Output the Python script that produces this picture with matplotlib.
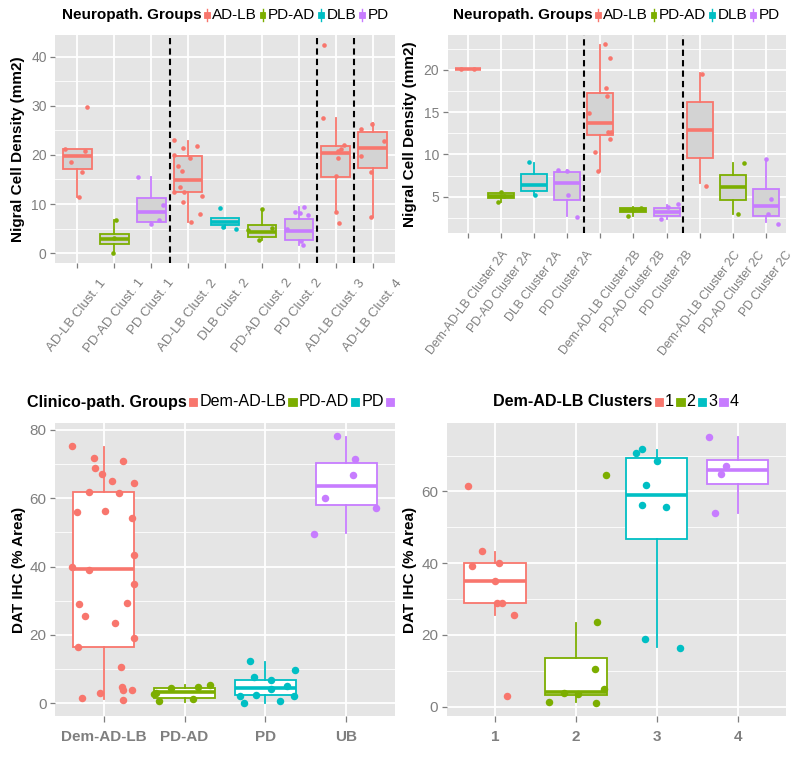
import matplotlib
matplotlib.use("Agg")
import matplotlib.pyplot as plt
from matplotlib.offsetbox import TextArea, DrawingArea, HPacker, AnchoredOffsetbox
from matplotlib.patches import Rectangle
from matplotlib.lines import Line2D
from matplotlib.ticker import MultipleLocator

plt.rcParams['font.family'] = ['Liberation Sans', 'DejaVu Sans']

RED, GREEN, CYAN, PURPLE = '#F8766D', '#7CAE00', '#00BFC4', '#C77CFF'
GROUP_COLORS = {'AD-LB': RED, 'PD-AD': GREEN, 'DLB': CYAN, 'PD': PURPLE}

# ---------------- Panel A (top-left) ----------------
a_categories = ['AD-LB Clust. 1', 'PD-AD Clust. 1', 'PD Clust. 1', 'AD-LB Clust. 2', 'DLB Clust. 2',
                'PD-AD Clust. 2', 'PD Clust. 2', 'AD-LB Clust. 3', 'AD-LB Clust. 4']
a_groups = ['AD-LB', 'PD-AD', 'PD', 'AD-LB', 'DLB', 'PD-AD', 'PD', 'AD-LB', 'AD-LB']
# box stats: (whisker low, Q1, median, Q3, whisker high)
a_box = [(11.4, 17.1, 19.8, 21.1, 21.3),
         (0.1, 1.95, 2.97, 3.86, 6.7),
         (5.9, 6.4, 8.4, 11.3, 15.4),
         (6.4, 12.5, 14.9, 19.8, 22.9),
         (5.2, 5.75, 6.4, 7.2, 7.2),
         (2.6, 3.3, 4.2, 5.75, 8.9),
         (1.6, 2.7, 4.5, 7.0, 9.3),
         (8.1, 15.6, 20.4, 21.9, 27.5),
         (7.45, 17.3, 21.4, 24.7, 26.4)]
a_points = [[21.3, 18.5, 20.7, 16.5, 11.4, 29.8],
            [6.7, 0.1, 3.0],
            [15.4, 9.9, 6.8, 5.9],
            [23.0, 20.0, 17.8, 21.4, 16.8, 13.5, 19.4, 21.9, 12.5, 10.4, 12.5, 6.4, 7.9, 11.7],
            [9.1, 4.9, 5.3],
            [8.9, 5.2, 2.6, 4.7],
            [8.3, 9.3, 8.1, 7.7, 5.0, 2.5, 1.6],
            [27.6, 42.3, 20.8, 22.0, 19.3, 15.8, 8.3, 6.1, 21.3],
            [25.2, 26.3, 19.8, 22.9, 16.6, 7.4]]
a_jitter = [[-0.32, -0.16, 0.21, 0.12, 0.04, 0.27],
            [0.06, -0.04, 0.0],
            [-0.36, 0.31, 0.22, -0.01],
            [-0.39, -0.37, -0.28, -0.14, -0.16, -0.21, 0.04, 0.24, -0.39, -0.14, -0.1, 0.09, 0.33, 0.38],
            [-0.14, 0.30, -0.05],
            [0.01, 0.26, -0.07, -0.37],
            [-0.1, 0.14, 0.04, 0.25, -0.33, 0.05, 0.1],
            [-0.34, -0.32, 0.05, 0.23, 0.07, 0.0, 0.0, 0.09, 0.15],
            [-0.33, -0.02, -0.33, 0.3, -0.04, -0.04]]
a_dividers = [3.5, 7.5, 8.5]

# ---------------- Panel B (top-right) ----------------
b_categories = ['Dem-AD-LB Cluster 2A', 'PD-AD Cluster 2A', 'DLB Cluster 2A', 'PD Cluster 2A',
                'Dem-AD-LB Cluster 2B', 'PD-AD Cluster 2B', 'PD Cluster 2B',
                'Dem-AD-LB Cluster 2C', 'PD-AD Cluster 2C', 'PD Cluster 2C']
b_groups = ['AD-LB', 'PD-AD', 'DLB', 'PD', 'AD-LB', 'PD-AD', 'PD', 'AD-LB', 'PD-AD', 'PD']
b_box = [(20.1, 20.1, 20.1, 20.1, 20.1),
         (4.4, 4.8, 5.05, 5.39, 5.6),
         (5.2, 5.71, 6.37, 7.75, 9.04),
         (2.76, 4.61, 6.57, 7.87, 8.14),
         (8.06, 12.26, 13.76, 17.25, 22.98),
         (2.76, 3.23, 3.43, 3.63, 3.74),
         (2.37, 2.76, 3.23, 3.7, 4.02),
         (6.57, 9.59, 12.93, 16.19, 19.65),
         (2.96, 4.61, 6.18, 7.55, 9.04),
         (1.98, 2.72, 3.94, 5.86, 9.44)]
b_points = [[20.1, 20.1],
            [4.4, 5.6, 5.1],
            [9.1, 5.2],
            [8.14, 8.0, 5.2, 2.64],
            [23.06, 21.37, 17.84, 16.86, 14.89, 12.66, 12.66, 11.79, 10.3, 8.06],
            [2.76, 3.7, 3.4],
            [2.37, 4.1, 3.82],
            [19.53, 6.3],
            [9.04, 2.96],
            [9.44, 4.69, 2.96, 1.78]]
b_jitter = [[-0.2, 0.2],
            [-0.08, 0.0, 0.1],
            [-0.15, 0.02],
            [-0.27, 0.0, 0.03, 0.3],
            [0.13, 0.3, 0.16, 0.21, -0.34, 0.23, 0.33, 0.28, -0.17, -0.07],
            [-0.15, 0.23, 0.0],
            [-0.17, 0.35, 0.03],
            [0.08, 0.18],
            [0.33, 0.16],
            [0.0, 0.16, 0.06, 0.36]]
b_dividers = [4.5, 7.5]

# ---------------- Panel C (bottom-left) ----------------
c_categories = ['Dem-AD-LB', 'PD-AD', 'PD', 'UB']
c_colors = [RED, GREEN, CYAN, PURPLE]
c_box = [(1.2, 16.5, 39.2, 61.8, 75.1),
         (0.5, 1.5, 3.4, 4.6, 5.5),
         (0.2, 2.4, 4.6, 6.8, 12.2),
         (49.8, 57.9, 63.5, 70.3, 77.9)]
c_points = [[75.4, 71.8, 68.9, 67.0, 70.8, 64.9, 64.5, 61.8, 61.6, 56.0, 56.4, 54.2, 43.3, 39.9, 39.1,
             35.0, 29.2, 29.4, 25.6, 23.6, 19.0, 16.5, 10.5, 4.9, 3.9, 3.9, 3.1, 1.5, 1.0],
            [2.6, 0.7, 4.4, 1.2, 4.9, 5.5, 2.9],
            [12.4, 7.6, 6.8, 5.2, 9.7, 4.2, 2.4, 2.1, 2.1, 0.2, 0.8],
            [78.1, 71.5, 66.9, 60.0, 57.1, 49.6]]
c_jitter = [[-0.39, -0.12, -0.1, -0.02, 0.24, 0.11, 0.37, -0.18, 0.19, -0.33, 0.02, 0.35, 0.37, -0.39, -0.18,
             0.38, -0.3, 0.29, -0.23, 0.14, 0.38, -0.32, 0.21, 0.23, 0.24, 0.35, -0.04, -0.27, 0.24],
            [-0.38, -0.31, -0.17, 0.1, 0.17, 0.32, -0.35],
            [-0.19, -0.14, 0.07, 0.26, 0.36, 0.07, -0.12, -0.32, 0.35, -0.26, 0.18],
            [-0.12, 0.1, 0.08, -0.26, 0.37, -0.4]]
c_legend_labels = ['Dem-AD-LB', 'PD-AD', 'PD', '']

# ---------------- Panel D (bottom-right) ----------------
d_categories = ['1', '2', '3', '4']
d_colors = [RED, GREEN, CYAN, PURPLE]
d_box = [(25.5, 29.0, 35.1, 40.1, 43.1),
         (1.2, 3.2, 4.2, 13.6, 23.4),
         (16.5, 46.7, 58.9, 69.3, 71.6),
         (54.1, 62.0, 66.0, 68.9, 75.1)]
d_points = [[61.4, 43.3, 39.1, 40.1, 35.0, 29.0, 29.0, 25.5, 3.1],
            [64.5, 23.7, 10.4, 4.8, 3.9, 3.5, 1.4, 1.1],
            [71.9, 70.7, 68.6, 61.7, 56.1, 55.8, 19.0, 16.4],
            [75.3, 67.0, 64.8, 54.1]]
d_jitter = [[-0.34, -0.16, -0.29, 0.05, 0.0, 0.02, 0.08, 0.23, 0.15],
            [0.37, 0.26, 0.24, 0.35, -0.15, 0.03, -0.33, 0.25],
            [-0.18, -0.26, 0.0, -0.13, -0.18, 0.11, -0.14, 0.29],
            [-0.35, -0.14, -0.2, -0.28]]

TICK_GREY = '#7F7F7F'
BG = '#E5E5E5'


def style_axes(ax, major, minor):
    ax.set_facecolor(BG)
    for s in ax.spines.values():
        s.set_visible(False)
    ax.yaxis.set_major_locator(MultipleLocator(major))
    ax.yaxis.set_minor_locator(MultipleLocator(minor))
    ax.grid(True, which='major', color='white', lw=1.3, zorder=0)
    ax.grid(True, which='minor', axis='y', color='white', lw=0.6, zorder=0)
    ax.set_axisbelow(True)
    ax.tick_params(which='major', colors=TICK_GREY, length=3.5, width=0.9, pad=2.5)
    ax.tick_params(which='minor', length=0)
    ax.tick_params(axis='x', which='minor', bottom=False)


def draw_boxes(ax, boxes, colors, fill, width, pts, jit, ms):
    stats = []
    for lo, q1, med, q3, hi in boxes:
        stats.append(dict(whislo=lo, q1=q1, med=med, q3=q3, whishi=hi, fliers=[]))
    pos = list(range(1, len(boxes) + 1))
    res = ax.bxp(stats, positions=pos, widths=width, showfliers=False, showcaps=False,
                 patch_artist=True)
    for i, c in enumerate(colors):
        b = res['boxes'][i]
        b.set_facecolor(fill)
        b.set_edgecolor(c)
        b.set_linewidth(1.3)
        b.set_zorder(2)
        res['medians'][i].set_color(c)
        res['medians'][i].set_linewidth(2.6)
        res['medians'][i].set_zorder(3)
        for w in res['whiskers'][2 * i:2 * i + 2]:
            w.set_color(c)
            w.set_linewidth(1.3)
            w.set_zorder(2)
    for i, (vals, js) in enumerate(zip(pts, jit)):
        xs = [pos[i] + j for j in js]
        ax.plot(xs, vals, 'o', color=colors[i], ms=ms, mew=0, zorder=4, linestyle='none')
    allv = [v for b in boxes for v in b] + [v for p in pts for v in p]
    lo, hi = min(allv), max(allv)
    pad = (hi - lo) * 0.05
    ax.set_ylim(lo - pad, hi + pad)
    ax.set_xlim(0.4, len(boxes) + 0.6)
    ax.set_xticks(pos)


def add_legend(fig, title, labels, colors, x, y, loc, fs=11, square=False):
    kids = [TextArea(title, textprops=dict(weight='bold', size=fs, color='black'))]
    for lab, col in zip(labels, colors):
        if square:
            da = DrawingArea(7, 9, 0, 0)
            da.add_artist(Rectangle((0.5, 1.5), 6, 6, fc=col, ec=col, lw=0.6))
        else:
            da = DrawingArea(6, 9, 0, 0)
            da.add_artist(Rectangle((1, 2.0), 4.0, 5.0, fc=col, ec=col, lw=0.6))
            da.add_artist(Line2D([3, 3], [0.5, 8.5], color=col, lw=1.0))
        kids.append(da)
        if lab:
            kids.append(TextArea(lab, textprops=dict(size=fs, color='black')))
    box = HPacker(children=kids, align='center', pad=0, sep=1)
    anc = AnchoredOffsetbox(loc=loc, child=box, bbox_to_anchor=(x, y),
                            bbox_transform=fig.transFigure, frameon=False, pad=0, borderpad=0)
    fig.add_artist(anc)


W, H = 799, 778
fig = plt.figure(figsize=(W / 100, H / 100), dpi=100)


def px_axes(x0, y0, x1, y1):
    return fig.add_axes([x0 / W, 1 - y1 / H, (x1 - x0) / W, (y1 - y0) / H])


# Panel A
axA = px_axes(55, 35, 395, 263)
style_axes(axA, 10, 5)
draw_boxes(axA, a_box, [GROUP_COLORS[g] for g in a_groups], '#D3D3D3', 0.78, a_points, a_jitter, 3.3)
for d in a_dividers:
    axA.axvline(d, color='black', lw=1.5, ls=(0, (3, 2)), zorder=5)
axA.set_xticklabels(a_categories, rotation=52, ha='center', va='top', fontsize=9.5)
axA.tick_params(axis='x', pad=6.5)
axA.tick_params(axis='y', labelsize=10)
axA.set_ylabel('Nigral Cell Density (mm2)', fontsize=11, weight='bold')
axA.yaxis.label.set_va('center')
axA.yaxis.set_label_coords((18 - 55) / 340, 0.5)

# Panel B
axB = px_axes(447.7, 35, 786, 233)
style_axes(axB, 5, 2.5)
draw_boxes(axB, b_box, [GROUP_COLORS[g] for g in b_groups], '#D3D3D3', 0.78, b_points, b_jitter, 3.3)
for d in b_dividers:
    axB.axvline(d, color='black', lw=1.5, ls=(0, (3, 2)), zorder=5)
axB.set_xticklabels(b_categories, rotation=53, ha='center', va='top', fontsize=8.8)
axB.tick_params(axis='x', pad=8)
axB.tick_params(axis='y', labelsize=10)
axB.set_ylabel('Nigral Cell Density (mm2)', fontsize=11, weight='bold')
axB.yaxis.label.set_va('center')
axB.yaxis.set_label_coords((410 - 447.7) / 338.3, 0.5)

# Panel C
axC = px_axes(55, 423, 395, 716)
style_axes(axC, 20, 10)
draw_boxes(axC, c_box, c_colors, 'white', 0.76, c_points, c_jitter, 5.4)
axC.set_xticklabels(c_categories, fontsize=11, weight='bold')
axC.tick_params(axis='y', labelsize=11)
axC.tick_params(axis='x', length=4.5, pad=5.5)
axC.set_ylabel('DAT IHC (% Area)', fontsize=11, weight='bold')
axC.yaxis.label.set_va('center')
axC.yaxis.set_label_coords((19 - 55) / 340, 0.5)

# Panel D
axD = px_axes(446.7, 423.3, 786, 716)
style_axes(axD, 20, 10)
draw_boxes(axD, d_box, d_colors, 'white', 0.76, d_points, d_jitter, 5.4)
axD.set_xticklabels(d_categories, fontsize=11, weight='bold')
axD.tick_params(axis='y', labelsize=11)
axD.tick_params(axis='x', length=4.5, pad=5.5)
axD.set_ylabel('DAT IHC (% Area)', fontsize=11, weight='bold')
axD.yaxis.label.set_va('center')
axD.yaxis.set_label_coords((410 - 446.7) / 339.3, 0.5)

# Legends
add_legend(fig, 'Neuropath. Groups', list(GROUP_COLORS.keys()), list(GROUP_COLORS.values()),
           225 / W, 1 - 15 / H, 'center')
add_legend(fig, 'Neuropath. Groups', list(GROUP_COLORS.keys()), list(GROUP_COLORS.values()),
           616 / W, 1 - 15 / H, 'center')
add_legend(fig, 'Clinico-path. Groups', c_legend_labels, c_colors,
           27 / W, 1 - 402 / H, 'center left', fs=11.6, square=True)
add_legend(fig, 'Dem-AD-LB Clusters', d_categories, d_colors,
           616 / W, 1 - 402 / H, 'center', fs=11.6, square=True)

fig.savefig('out.png', dpi=100, facecolor='white')
